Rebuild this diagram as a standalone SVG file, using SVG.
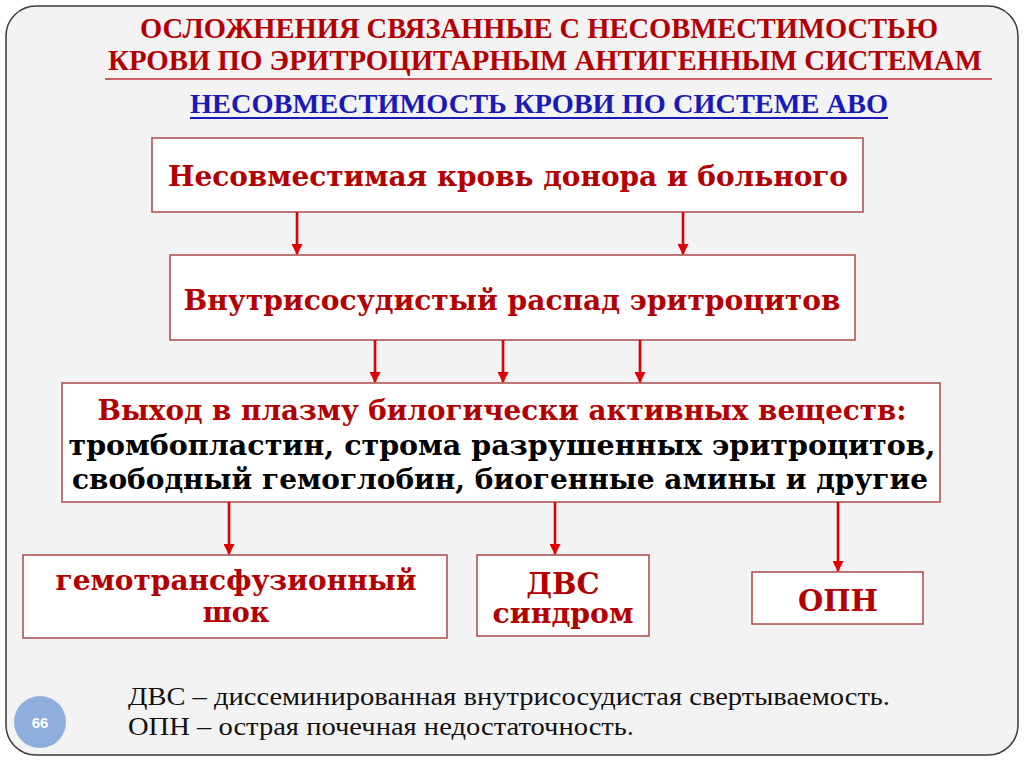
<svg xmlns="http://www.w3.org/2000/svg" width="1024" height="767" viewBox="0 0 1024 767">
<defs>
<marker id="ah" viewBox="0 0 10 10" refX="9" refY="5" markerWidth="12" markerHeight="11" orient="auto" markerUnits="userSpaceOnUse">
<path d="M0,0 L10,5 L0,10 z" fill="#e00000"/>
</marker>
<style>
.box{fill:#ffffff;stroke:#b05454;stroke-width:1.6}
.bt{font-family:"DejaVu Serif","Liberation Serif",serif;font-weight:bold;fill:#b30000;text-anchor:middle}
.bk{font-family:"DejaVu Serif","Liberation Serif",serif;font-weight:bold;fill:#000000;text-anchor:middle}
.ttl{font-family:"Liberation Serif",serif;font-weight:bold;fill:#b30000;font-size:29px;text-anchor:middle}
.foot{font-family:"Liberation Serif",serif;fill:#111111;font-size:26px}
.ar{stroke:#e00000;stroke-width:2.6;fill:none}
</style>
</defs>
<rect x="0" y="0" width="1024" height="767" fill="#ffffff"/>
<rect x="6" y="6" width="1012" height="749" rx="30" ry="30" fill="#f3f3f3" stroke="#3a3a3a" stroke-width="1.5"/>
<g id="title">
<text class="ttl" x="539" y="38" textLength="798" lengthAdjust="spacingAndGlyphs">ОСЛОЖНЕНИЯ СВЯЗАННЫЕ С НЕСОВМЕСТИМОСТЬЮ</text>
<text class="ttl" x="545" y="70" textLength="874" lengthAdjust="spacingAndGlyphs">КРОВИ  ПО ЭРИТРОЦИТАРНЫМ АНТИГЕННЫМ СИСТЕМАМ</text>
<line x1="105" y1="79" x2="992" y2="79" stroke="#c03030" stroke-width="1.6"/>
<text x="539" y="113" font-family="Liberation Serif,serif" font-weight="bold" font-size="28" fill="#1a1ab8" text-anchor="middle" textLength="698" lengthAdjust="spacingAndGlyphs">НЕСОВМЕСТИМОСТЬ КРОВИ ПО СИСТЕМЕ АВО</text>
<line x1="190" y1="118" x2="888" y2="118" stroke="#1a1ab8" stroke-width="2"/>
</g>
<g id="n1">
<rect class="box" x="152" y="138" width="711" height="74"/>
<text class="bt" x="508" y="186" font-size="27" textLength="680" lengthAdjust="spacingAndGlyphs">Несовместимая кровь донора и больного</text>
</g>
<g id="n2">
<rect class="box" x="170" y="255" width="685" height="85"/>
<text class="bt" x="512" y="310" font-size="27" textLength="657" lengthAdjust="spacingAndGlyphs">Внутрисосудистый распад эритроцитов</text>
</g>
<g id="n3">
<rect class="box" x="62" y="383" width="878" height="119"/>
<text class="bt" x="502" y="420" font-size="27" textLength="809" lengthAdjust="spacingAndGlyphs">Выход в плазму билогически активных веществ:</text>
<text class="bk" x="502" y="455" font-size="27" textLength="867" lengthAdjust="spacingAndGlyphs">тромбопластин, строма разрушенных эритроцитов,</text>
<text class="bk" x="500" y="489" font-size="27" textLength="856" lengthAdjust="spacingAndGlyphs">свободный гемоглобин, биогенные амины и другие</text>
</g>
<g id="n4">
<rect class="box" x="23" y="555" width="424" height="83"/>
<text class="bt" x="236" y="590" font-size="27" textLength="361" lengthAdjust="spacingAndGlyphs">гемотрансфузионный</text>
<text class="bt" x="236" y="622" font-size="27">шок</text>
</g>
<g id="n5">
<rect class="box" x="477" y="555" width="172" height="81"/>
<text class="bt" x="563" y="594" font-size="29">ДВС</text>
<text class="bt" x="563" y="623" font-size="27" textLength="141" lengthAdjust="spacingAndGlyphs">синдром</text>
</g>
<g id="n6">
<rect class="box" x="752" y="572" width="171" height="52"/>
<text class="bt" x="838" y="611" font-size="29">ОПН</text>
</g>
<g id="connectors">
<line class="ar" x1="297" y1="212" x2="297" y2="254" marker-end="url(#ah)"/>
<line class="ar" x1="683" y1="212" x2="683" y2="254" marker-end="url(#ah)"/>
<line class="ar" x1="375" y1="340" x2="375" y2="382" marker-end="url(#ah)"/>
<line class="ar" x1="503" y1="340" x2="503" y2="382" marker-end="url(#ah)"/>
<line class="ar" x1="640" y1="340" x2="640" y2="382" marker-end="url(#ah)"/>
<line class="ar" x1="229" y1="502" x2="229" y2="554" marker-end="url(#ah)"/>
<line class="ar" x1="555" y1="502" x2="555" y2="554" marker-end="url(#ah)"/>
<line class="ar" x1="838" y1="502" x2="838" y2="571" marker-end="url(#ah)"/>
</g>
<g id="footer">
<text class="foot" x="128" y="705" textLength="762" lengthAdjust="spacingAndGlyphs">ДВС – диссеминированная внутрисосудистая свертываемость.</text>
<text class="foot" x="128" y="735" textLength="506" lengthAdjust="spacingAndGlyphs">ОПН – острая почечная недостаточность.</text>
<circle cx="40" cy="722" r="26" fill="#8eaede"/>
<text x="40" y="728" font-family="Liberation Sans,sans-serif" font-weight="bold" font-size="15" fill="#ffffff" text-anchor="middle">66</text>
</g>
</svg>
